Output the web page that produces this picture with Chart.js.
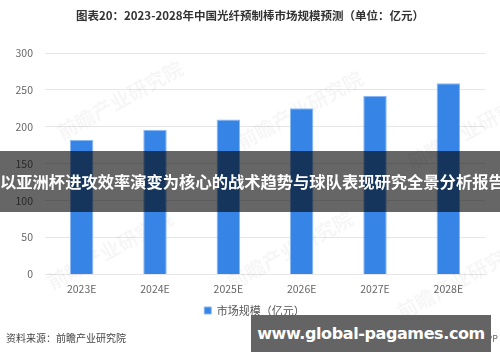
<!DOCTYPE html>
<html>
<head>
<meta charset="utf-8">
<script src="https://cdn.jsdelivr.net/npm/chart.js@4.4.1/dist/chart.umd.min.js"></script>
<style>
  body { margin: 0; background: #fff; }
  #wrap { position: relative; width: 500px; height: 362px; overflow: hidden; font-family: "Noto Sans CJK SC", "Noto Sans", sans-serif; }
  #chartBox { position: absolute; left: 0; top: 0; width: 500px; height: 362px; }
  #title { position: absolute; left: 0; top: 7px; width: 500px; text-align: center; font-size: 11.5px; font-weight: bold; color: #333; }
  #source { position: absolute; left: 6px; top: 330px; font-size: 10px; color: #444; }
  #app { position: absolute; right: 2px; top: 332px; font-size: 9px; color: #666; }
  #banner { position: absolute; left: 0; top: 151px; width: 500px; height: 61px; background: rgba(0,0,0,0.6);
            color: #fff; font-weight: bold; font-size: 16.3px; line-height: 61px; text-align: center; white-space: nowrap; }
  #site { position: absolute; left: 251px; top: 315px; width: 240px; height: 37px; background: #646464;
          color: #fff; font-family: "DejaVu Sans", sans-serif; font-weight: bold; font-size: 16px; letter-spacing: -0.4px; line-height: 37px; text-align: center; white-space: nowrap; }
</style>
</head>
<body>
<div id="wrap">
  <div id="chartBox"><canvas id="marketChart" width="500" height="362"></canvas></div>
  <div id="title">图表20：2023-2028年中国光纤预制棒市场规模预测（单位：亿元）</div>
  <div id="source">资料来源：前瞻产业研究院</div>
  <div id="app">前瞻经济学人APP</div>
  <div id="banner">以亚洲杯进攻效率演变为核心的战术趋势与球队表现研究全景分析报告</div>
  <div id="site">www.global-pagames.com</div>
</div>
<script>
// chart data
const years = ['2023E', '2024E', '2025E', '2026E', '2027E', '2028E'];
const marketSize = [182, 196, 210, 225, 242, 259];
const yTicks = [0, 50, 100, 150, 200, 250, 300];
const seriesName = '市场规模（亿元）';

// faint watermark text behind the bars
const watermark = {
    id: 'watermark',
    beforeDatasetsDraw(chart) {
        const ctx = chart.ctx;
        const spots = [[120, 100], [300, 110], [470, 130], [110, 250], [290, 250], [460, 280]];
        ctx.save();
        ctx.fillStyle = 'rgba(0,0,0,0.035)';
        ctx.font = 'bold 20px "Noto Sans CJK SC"';
        spots.forEach(([x, y]) => {
            ctx.save();
            ctx.translate(x, y);
            ctx.rotate(-0.5);
            ctx.fillText('前瞻产业研究院', -70, 0);
            ctx.restore();
        });
        ctx.restore();
    }
};

// legend sits a little right of centre in the original
const legendShift = {
    id: 'legendShift',
    afterLayout(chart) {
        chart.legend.left += 12;
        chart.legend.right += 12;
    }
};

const ctx = document.getElementById('marketChart').getContext('2d');
new Chart(ctx, {
    type: 'bar',
    data: {
        labels: years,
        datasets: [{
            label: seriesName,
            data: marketSize,
            backgroundColor: '#3584e6',
            borderColor: '#8ab8f2',
            borderWidth: 1,
            barPercentage: 0.32,
            categoryPercentage: 1
        }]
    },
    options: {
        responsive: false,
        animation: false,
        layout: { padding: { top: 53, right: 15, left: 0, bottom: 36 } },
        plugins: {
            legend: {
                position: 'bottom',
                labels: {
                    boxWidth: 7,
                    boxHeight: 7,
                    padding: 10,
                    color: '#555',
                    font: { size: 11, family: '"Noto Sans CJK SC"' }
                }
            },
            tooltip: { enabled: false }
        },
        scales: {
            x: {
                grid: { display: false },
                border: { color: '#e6e6e6' },
                ticks: { color: '#666', padding: 0, font: { size: 10.5, family: '"Noto Sans CJK SC"' } }
            },
            y: {
                min: 0,
                max: 300,
                afterBuildTicks: axis => { axis.ticks = yTicks.map(v => ({ value: v })); },
                afterFit: axis => { axis.width = 45; },
                grid: { color: '#e6e6e6', drawTicks: false },
                border: { display: false },
                ticks: { color: '#666', padding: 12, font: { size: 10.5, family: '"Noto Sans CJK SC"' } }
            }
        }
    },
    plugins: [watermark, legendShift]
});
</script>
</body>
</html>
